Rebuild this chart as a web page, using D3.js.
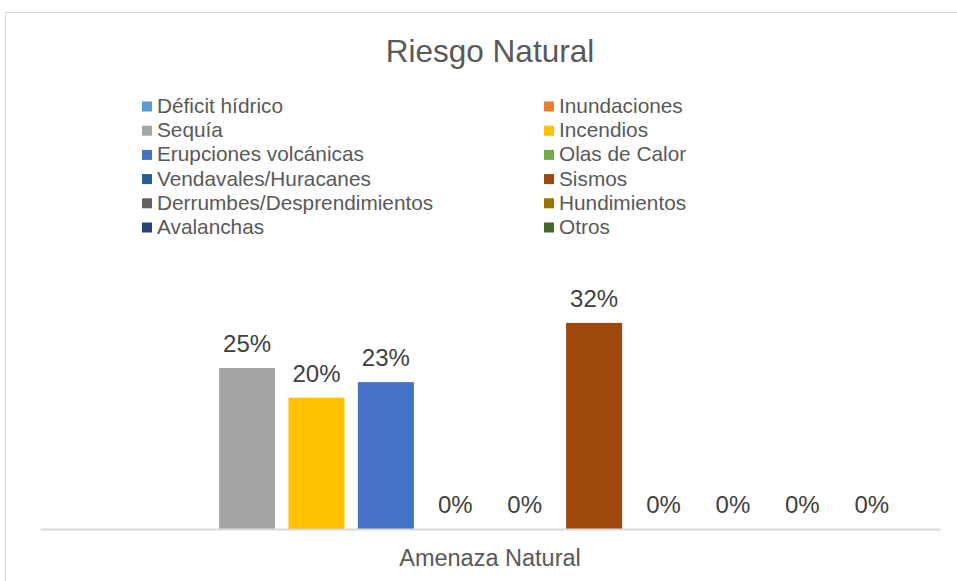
<!doctype html>
<meta charset="utf-8">

<style>
    body {
        margin: 0;
        background: #fff;
    }
    text {
        font-family: "Liberation Sans", Arial, sans-serif;
    }
</style>

<div id="chart"></div>

<script src="https://d3js.org/d3.v7.min.js"></script>

<script>

let category = "Amenaza Natural"
let series = [
    "Déficit hídrico", "Inundaciones", "Sequía", "Incendios",
    "Erupciones volcánicas", "Olas de Calor", "Vendavales/Huracanes", "Sismos",
    "Derrumbes/Desprendimientos", "Hundimientos", "Avalanchas", "Otros"
]
// null = no value in the sheet (no bar, no label)
let values = [null, null, 0.25, 0.204, 0.228, 0, 0, 0.32, 0, 0, 0, 0]
let colors = [
    "#5B9BD5", "#ED7D31", "#A5A5A5", "#FFC000",
    "#4472C4", "#70AD47", "#255E91", "#9E480E",
    "#636363", "#997300", "#264478", "#43682B"
]

let width = 957, height = 581

let svg = d3.select("#chart")
    .append("svg")
    .attr("width", width)
    .attr("height", height)

// chart area border
svg.append("rect")
    .attr("x", 5.5).attr("y", 12.5)
    .attr("width", 1000).attr("height", 700)
    .attr("fill", "#fff")
    .attr("stroke", "#D9D9D9")

svg.append("text")
    .attr("x", 490).attr("y", 62)
    .attr("text-anchor", "middle")
    .style("font-size", "31.5px")
    .style("fill", "#595959")
    .text("Riesgo Natural")

// legend, two columns filled row by row
let legend = svg.append("g")
let rowH = 24.2
series.forEach((s, i) => {
    let col = i % 2, row = Math.floor(i / 2)
    let gx = col == 0 ? 142 : 544
    let gy = 106 + row * rowH
    legend.append("rect")
        .attr("x", gx).attr("y", gy - 4.5)
        .attr("width", 10).attr("height", 10)
        .attr("fill", colors[i])
    legend.append("text")
        .attr("x", gx + 15).attr("y", gy + 7)
        .style("font-size", "20.8px")
        .style("fill", "#595959")
        .text(s)
})

let plot = {left: 40, right: 940, bottom: 529}

let xScale = d3.scaleBand()
    .domain(series)
    .range([plot.left, plot.right])
    .paddingInner(0.193)
    .paddingOuter(0.58)

let yScale = d3.scaleLinear()
    .domain([0, 0.35])
    .range([plot.bottom, plot.bottom - 0.35 * 644])

let data = series.map((s, i) => ({name: s, value: values[i], color: colors[i]}))
    .filter(d => d.value != null)

svg.append("g")
    .selectAll("rect")
    .data(data.filter(d => d.value > 0))
    .join("rect")
    .attr("x", d => xScale(d.name))
    .attr("y", d => yScale(d.value))
    .attr("width", xScale.bandwidth())
    .attr("height", d => yScale(0) - yScale(d.value))
    .attr("fill", d => d.color)

let fmt = d3.format(".0%")
svg.append("g")
    .selectAll("text")
    .data(data)
    .join("text")
    .attr("x", d => xScale(d.name) + xScale.bandwidth() / 2)
    .attr("y", d => yScale(d.value) - 16)
    .attr("text-anchor", "middle")
    .style("font-size", "24px")
    .style("fill", "#404040")
    .text(d => fmt(d.value))

// category axis: one category spanning the whole plot
let catScale = d3.scaleBand().domain([category]).range([plot.left, plot.right])
let xAxis = d3.axisBottom(catScale).tickSize(0).tickPadding(20)
let axisG = svg.append("g")
    .attr("transform", "translate(0," + plot.bottom + ")")
    .call(xAxis)
axisG.select(".domain").attr("stroke", "#D9D9D9").attr("stroke-width", 2)
axisG.selectAll(".tick text")
    .style("font-size", "23.5px")
    .style("fill", "#595959")
    .style("font-family", "'Liberation Sans', Arial, sans-serif")

</script>
